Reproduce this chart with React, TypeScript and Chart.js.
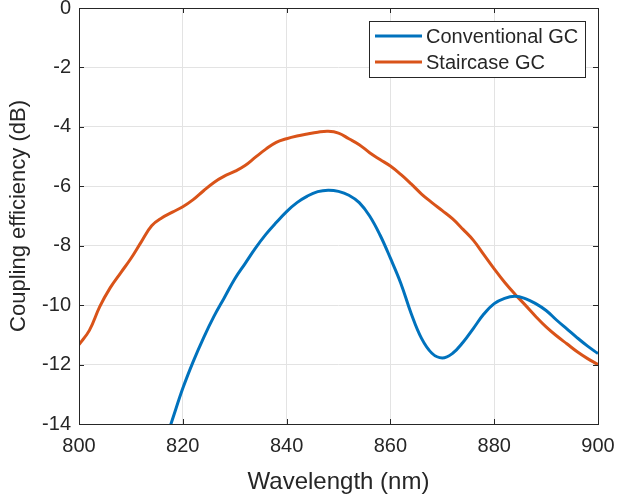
import React, { useEffect, useRef } from "react";
import { Chart, registerables } from "chart.js";

Chart.register(...registerables);

const wavelengthsStair = [800,802,804,806,808,810,812,814,816,818,820,822,824,826,828,830,832,834,836,838,840,842,844,846,848,850,852,854,856,858,860,862,864,866,868,870,872,874,876,878,880,882,884,886,888,890,892,894,896,898,900];
const staircaseGC = [-11.33,-10.85,-10.05,-9.42,-8.92,-8.43,-7.87,-7.33,-7.06,-6.87,-6.69,-6.45,-6.15,-5.87,-5.66,-5.5,-5.3,-5.02,-4.75,-4.52,-4.4,-4.31,-4.24,-4.18,-4.15,-4.21,-4.4,-4.6,-4.87,-5.1,-5.32,-5.6,-5.92,-6.26,-6.55,-6.82,-7.1,-7.45,-7.82,-8.3,-8.78,-9.23,-9.63,-10.0,-10.38,-10.73,-11.03,-11.3,-11.57,-11.8,-12.0];

const wavelengthsConv = [816,818,820,822,824,826,828,830,832,834,836,838,840,842,844,846,848,850,852,854,856,858,860,862,864,866,868,870,872,874,876,878,880,882,884,886,888,890,892,894,896,898,900];
const conventionalGC = [-14.9,-13.85,-12.8,-11.9,-11.1,-10.38,-9.75,-9.12,-8.6,-8.08,-7.62,-7.22,-6.85,-6.55,-6.33,-6.18,-6.13,-6.17,-6.3,-6.55,-7.0,-7.64,-8.42,-9.26,-10.28,-11.12,-11.62,-11.78,-11.62,-11.25,-10.78,-10.3,-9.95,-9.77,-9.7,-9.78,-9.95,-10.18,-10.5,-10.8,-11.1,-11.38,-11.63];

const seriesLabels = ["Conventional GC", "Staircase GC"];
const xTicks = [800, 820, 840, 860, 880, 900];
const yTicks = [0, -2, -4, -6, -8, -10, -12, -14];

const FONT = "'Liberation Sans', Arial, Helvetica, sans-serif";
const AXIS_COLOR = "#262626";

const boxPlugin = {
  id: "boxAndLegend",
  afterDraw(chart: any) {
    const { ctx, chartArea } = chart;
    const { left, right, top, bottom } = chartArea;
    const xs = chart.scales.x;
    const ys = chart.scales.y;
    ctx.save();
    ctx.strokeStyle = AXIS_COLOR;
    ctx.lineWidth = 1;
    ctx.strokeRect(Math.round(left) + 0.5, Math.round(top) + 0.5, Math.round(right - left), Math.round(bottom - top));
    const tl = 5;
    ctx.beginPath();
    xTicks.forEach((v) => {
      const px = Math.round(xs.getPixelForValue(v)) + 0.5;
      ctx.moveTo(px, bottom); ctx.lineTo(px, bottom - tl);
      ctx.moveTo(px, top); ctx.lineTo(px, top + tl);
    });
    yTicks.forEach((v) => {
      const py = Math.round(ys.getPixelForValue(v)) + 0.5;
      ctx.moveTo(left, py); ctx.lineTo(left + tl, py);
      ctx.moveTo(right, py); ctx.lineTo(right - tl, py);
    });
    ctx.stroke();

    // legend
    const bx = 369.5, by = 21.5, bw = 216, bh = 56;
    ctx.fillStyle = "#ffffff";
    ctx.fillRect(bx, by, bw, bh);
    ctx.strokeStyle = AXIS_COLOR;
    ctx.lineWidth = 1;
    ctx.strokeRect(bx, by, bw, bh);
    ctx.font = `20px ${FONT}`;
    ctx.textBaseline = "middle";
    ctx.textAlign = "left";
    chart.data.datasets.forEach((ds: any, i: number) => {
      const cy = by + 14.5 + i * 26;
      ctx.strokeStyle = ds.borderColor;
      ctx.lineWidth = 3;
      ctx.beginPath();
      ctx.moveTo(375, cy);
      ctx.lineTo(422, cy);
      ctx.stroke();
      ctx.fillStyle = AXIS_COLOR;
      ctx.fillText(ds.label, 426, cy + 1);
    });
    ctx.restore();
  },
};

export default function App() {
  const ref = useRef<HTMLCanvasElement | null>(null);
  useEffect(() => {
    if (!ref.current) return;
    const chart = new Chart(ref.current, {
      type: "line",
      data: {
        datasets: [
          {
            label: seriesLabels[0],
            data: wavelengthsConv.map((x, i) => ({ x, y: conventionalGC[i] })),
            borderColor: "#0072BD",
            borderWidth: 3,
            pointRadius: 0,
            tension: 0.4,
            fill: false,
          },
          {
            label: seriesLabels[1],
            data: wavelengthsStair.map((x, i) => ({ x, y: staircaseGC[i] })),
            borderColor: "#D95319",
            borderWidth: 3,
            pointRadius: 0,
            tension: 0.4,
            fill: false,
          },
        ],
      },
      options: {
        animation: false,
        responsive: false,
        maintainAspectRatio: false,
        layout: { padding: { left: 0, right: 19, top: 8, bottom: 0 } },
        plugins: { legend: { display: false }, tooltip: { enabled: false } },
        scales: {
          x: {
            type: "linear",
            min: 800,
            max: 900,
            afterBuildTicks: (s: any) => { s.ticks = xTicks.map((v) => ({ value: v })); },
            afterFit: (s: any) => { s.height = 73; s.paddingLeft = 0; s.paddingRight = 0; },
            border: { display: false },
            grid: { color: "#e3e3e3", drawTicks: false, lineWidth: 1 },
            ticks: { font: { size: 20, family: FONT }, color: AXIS_COLOR, padding: 10, maxRotation: 0 },
            title: { display: true, text: "Wavelength (nm)", font: { size: 24, family: FONT }, color: AXIS_COLOR, padding: { top: 1, bottom: 0 } },
          },
          y: {
            type: "linear",
            min: -14,
            max: 0,
            afterBuildTicks: (s: any) => { s.ticks = yTicks.map((v) => ({ value: v })); },
            afterFit: (s: any) => { s.width = 79; s.paddingTop = 0; s.paddingBottom = 0; },
            border: { display: false },
            grid: { color: "#e3e3e3", drawTicks: false, lineWidth: 1 },
            ticks: { font: { size: 20, family: FONT }, color: AXIS_COLOR, padding: 8 },
            title: { display: true, text: "Coupling efficiency (dB)", font: { size: 22, family: FONT }, color: AXIS_COLOR, padding: { top: 6, bottom: 0 } },
          },
        },
      },
      plugins: [boxPlugin],
    } as any);
    return () => chart.destroy();
  }, []);
  return (
    <div style={{ position: "fixed", left: 0, top: 0, width: 617, height: 497, background: "#fff" }}>
      <canvas ref={ref} width={617} height={497} style={{ width: 617, height: 497 }} />
    </div>
  );
}
